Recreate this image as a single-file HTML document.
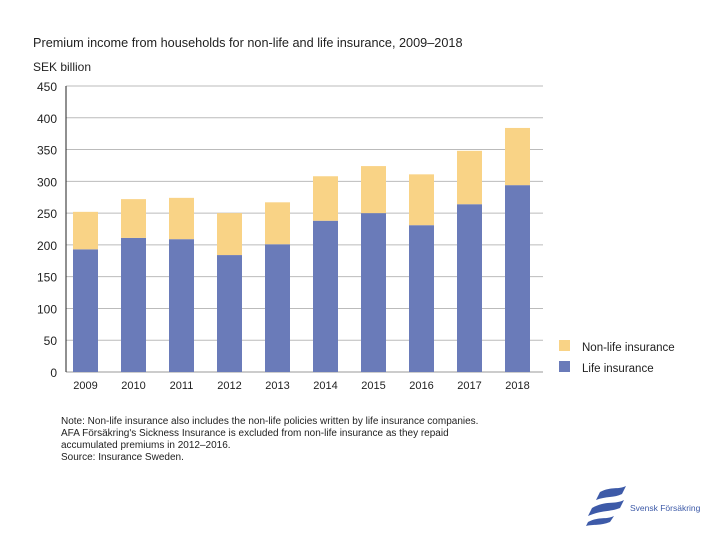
<!DOCTYPE html>
<html><head><meta charset="utf-8"><style>
body{margin:0;background:#fff;width:720px;height:540px;overflow:hidden;font-family:"Liberation Sans",sans-serif;}
svg text{font-family:"Liberation Sans",sans-serif;fill:#222;}
</style></head><body>
<svg id="c" width="720" height="540">
<text x="33" y="47" font-size="12.7">Premium income from households for non-life and life insurance, 2009–2018</text>
<text x="33" y="71" font-size="12">SEK billion</text>
<g id="grid"></g><g id="bars"></g>
<line x1="66" y1="86" x2="66" y2="372" stroke="#222" stroke-width="1"/>
<rect x="559" y="340" width="11" height="11" fill="#f9d386"/>
<text x="582" y="351" font-size="11.5">Non-life insurance</text>
<rect x="559" y="361" width="11" height="11" fill="#6a7bb9"/>
<text x="582" y="372" font-size="11.5">Life insurance</text>
<g font-size="10">
<text x="61" y="424">Note: Non-life insurance also includes the non-life policies written by life insurance companies.</text>
<text x="61" y="436">AFA Försäkring's Sickness Insurance is excluded from non-life insurance as they repaid</text>
<text x="61" y="448">accumulated premiums in 2012–2016.</text>
<text x="61" y="460">Source: Insurance Sweden.</text>
</g>
<g>
<path d="M600 492 C612 486,618 490,626 486 L622 494 C614 498,606 496,596 500 Z" fill="#3d5aa8"/>
<path d="M592 508 C606 500,614 505,624 500 L620 508 C610 512,602 510,588 516 Z" fill="#3d5aa8"/>
<path d="M588 522 C600 516,606 520,614 516 L610 522 C600 526,594 524,586 526 Z" fill="#3d5aa8"/>
<text x="630" y="511" font-size="8.5" style="fill:#3d5aa8">Svensk Försäkring</text>
</g>
</svg>
<script>
const years=["2009","2010","2011","2012","2013","2014","2015","2016","2017","2018"];
const life=[193,211,209,184,201,238,250,231,264,294];
const nonLife=[59,61,65,66,66,70,74,80,84,90];
const yTicks=[0,50,100,150,200,250,300,350,400,450];
const NS="http://www.w3.org/2000/svg";
const y=v=>372-v*(286/450);
const x=i=>73+i*48;
const grid=document.getElementById('grid'),bars=document.getElementById('bars');
function mk(t,a,p){const e=document.createElementNS(NS,t);for(const k in a)e.setAttribute(k,a[k]);p.appendChild(e);return e;}
yTicks.forEach(t=>{
 if(t>0){const l=mk('line',{x1:66,x2:543,y1:y(t),y2:y(t),stroke:'#bbb','stroke-width':1},grid);
 
 }
 const tx=mk('text',{x:57,y:y(t)+5,'font-size':12,'text-anchor':'end'},grid);tx.textContent=t;
 
 
});
mk('line',{x1:66,x2:543,y1:372,y2:372,stroke:'#999','stroke-width':1},grid);
years.forEach((yr,i)=>{
 const a=mk('rect',{x:x(i),width:25,y:y(life[i]),height:372-y(life[i]),fill:'#6a7bb9'},bars);
 
 
 const tot=life[i]+nonLife[i];
 const b=mk('rect',{x:x(i),width:25,y:y(tot),height:y(life[i])-y(tot),fill:'#f9d386'},bars);
 
 
 const t=mk('text',{x:x(i)+12.5,y:389,'font-size':11,'text-anchor':'middle'},bars);t.textContent=yr;
 
 
});
</script>
</body></html>
